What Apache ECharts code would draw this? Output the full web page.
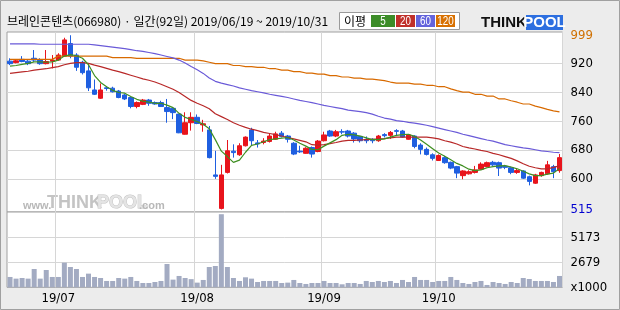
<!DOCTYPE html>
<html><head><meta charset="utf-8">
<script src="https://cdn.jsdelivr.net/npm/echarts@6/dist/echarts.min.js"></script>
<style>html,body{margin:0;padding:0;background:#ececec;overflow:hidden}#c{width:620px;height:310px}</style>
</head><body><div id="c"></div>
<script>
const titleText = '브레인콘텐츠(066980) · 일간(92일) 2019/06/19 ~ 2019/10/31';
const legendLabel = '이평';
const maNames = ['5', '20', '60', '120'];
const dates = ['06/19','06/20','06/21','06/24','06/25','06/26','06/27','06/28',
 '07/01','07/02','07/03','07/04','07/05','07/08','07/09','07/10','07/11','07/12','07/15','07/16','07/17','07/18','07/19','07/22','07/23','07/24','07/25','07/26','07/29','07/30','07/31',
 '08/01','08/02','08/05','08/06','08/07','08/08','08/09','08/12','08/13','08/14','08/16','08/19','08/20','08/21','08/22','08/23','08/26','08/27','08/28','08/29','08/30',
 '09/02','09/03','09/04','09/05','09/06','09/09','09/10','09/11','09/16','09/17','09/18','09/19','09/20','09/23','09/24','09/25','09/26','09/27','09/30',
 '10/01','10/02','10/04','10/07','10/08','10/10','10/11','10/14','10/15','10/16','10/17','10/18','10/21','10/22','10/23','10/24','10/25','10/28','10/29','10/30','10/31'];
const openP = [927,923,932,927,935,930,920,927,930,941,976,944,924,900,847,824,853,852,844,833,826,801,807,819,812,812,798,796,780,724,756,771,750,736,611,518,618,677,667,692,736,700,701,704,710,727,719,699,677,671,687,676,706,733,719,731,733,727,718,710,710,706,723,721,734,733,710,719,694,682,667,651,659,646,634,609,614,618,627,634,646,645,635,631,618,622,606,588,609,614,634,623];
const closeP = [920,928,926,920,930,920,926,930,944,986,941,910,895,853,835,847,851,842,826,822,801,812,819,810,808,801,787,784,728,756,771,754,753,659,607,611,678,673,692,716,706,697,705,719,725,718,710,669,675,685,669,705,722,719,731,730,719,711,706,706,706,719,720,729,732,716,722,690,682,668,657,665,645,630,616,622,620,625,641,645,639,630,632,618,623,602,593,611,618,639,620,659];
const lowP = [916,921,924,916,925,917,918,907,928,940,935,900,890,844,833,822,845,840,824,819,796,796,805,803,806,800,756,766,727,723,734,752,731,657,600,515,615,659,664,690,692,687,696,701,708,715,701,666,672,670,659,674,704,717,716,724,715,701,701,699,699,703,715,711,719,714,709,685,668,665,651,650,642,627,602,599,612,615,625,632,636,608,627,613,614,600,582,586,606,612,602,617];
const highP = [935,931,941,930,958,935,958,944,949,992,999,949,928,921,876,865,858,856,847,836,828,815,822,822,815,817,822,799,781,785,785,779,764,747,678,639,708,696,699,718,742,708,713,725,731,733,722,702,692,688,690,708,731,736,736,738,736,730,719,718,713,722,727,733,738,736,724,721,699,687,671,668,664,648,636,624,624,636,646,648,650,648,639,634,628,624,609,614,620,650,639,669];
const volume = [1217,1051,1117,1051,2015,1051,1915,1217,1217,2647,2214,2015,1217,1549,1217,1117,818,818,1117,1051,1217,818,618,618,718,818,2514,951,1317,1117,1000,652,918,2214,2314,7480,2214,1117,818,1184,1051,718,818,818,818,618,652,918,618,519,618,618,818,618,618,485,618,618,519,818,718,818,718,818,618,918,718,1217,918,918,718,818,818,1217,918,618,519,718,818,419,718,618,519,718,618,1117,1017,818,818,818,718,1317];
const ma5 = [913,915,918,921,925,925,924,925,930,941,945,942,935,917,887,868,856,846,840,838,829,821,816,813,810,810,805,798,782,771,765,759,752,739,709,677,662,646,652,674,693,697,703,709,711,713,715,708,699,691,682,681,691,700,709,721,724,722,719,714,709,709,711,716,721,723,724,718,708,696,684,672,663,653,643,636,627,623,625,631,634,636,637,633,628,621,614,609,609,613,616,629];
const ma20 = [893,895,897,899,902,904,906,909,912,917,921,923,923,921,916,912,907,902,898,893,888,883,878,874,869,863,856,849,840,829,818,810,803,795,781,773,765,756,749,743,738,734,729,726,723,719,715,711,707,703,695,694,695,698,701,705,707,707,708,709,710,711,712,714,716,716,716,716,716,716,714,711,706,702,697,690,686,683,679,676,671,667,662,657,650,642,635,631,628,628,632,636];
const ma60 = [975,975,975,975,975,974,974,974,974,974,974,974,974,974,972,970,968,966,964,962,959,956,954,951,948,944,940,936,930,922,912,903,893,880,871,866,862,858,853,849,845,842,839,835,832,829,826,822,818,815,812,808,804,801,798,795,791,789,787,784,780,774,769,766,762,760,757,755,752,749,745,741,737,733,729,724,720,716,712,708,705,700,695,692,689,686,684,681,678,676,674,673];
const ma120 = [932,932,932,932,932,932,932,932,941,941,941,941,941,941,941,941,941,937,937,937,937,935,935,935,935,935,935,935,935,930,930,930,928,924,920,920,920,915,915,912,912,910,910,906,906,902,902,898,898,894,894,891,891,887,887,883,883,880,880,877,877,875,873,869,866,866,866,863,863,860,860,856,856,850,845,841,841,835,835,830,830,822,822,817,813,808,808,802,798,793,789,786];
const priceGridValues = [600, 680, 760, 840, 920];
const priceLabelValues = [515, 600, 680, 760, 840, 920, 999];
const priceMin = 508, priceMax = 1008;
const volGridValues = [2679, 5173];
const volBase = 186, volMax = 7700;
const volUnit = 'x1000';

const RED = '#e8141c', BLUE = '#1f5fe0';
const MA_COLORS = ['#3f8f22', '#b82828', '#6a5ad8', '#d86a00'];
const LEG_COLORS = ['#3c8c28', '#c0302a', '#6464dc', '#d87000'];
const AX_FONT = "'Liberation Sans Narrow','DejaVu Sans Condensed',Arial,sans-serif";

const monthStart = (i) => i > 0 && dates[i].slice(0, 2) !== dates[i - 1].slice(0, 2);
const candles = dates.map((d, i) => [openP[i], closeP[i], lowP[i], highP[i]]);

const chart = echarts.init(document.getElementById('c'), null, {renderer: 'canvas'});
const gridCommon = {left: 7, right: 57.5, show: true, backgroundColor: '#ffffff', borderColor: '#a0a0a0', borderWidth: 1, containLabel: false};
const splitStyle = {color: '#d6d6d6', width: 1};

const legendItems = [];
const legX = [371, 396, 416, 436], legW = [24, 19, 19, 19];
maNames.forEach((n, k) => {
  legendItems.push({type: 'rect', shape: {x: legX[k], y: 15, width: legW[k], height: 12}, style: {fill: LEG_COLORS[k]}});
  legendItems.push({type: 'text', x: legX[k] + legW[k] / 2, y: 21.5, scaleX: 0.82, style: {text: n, fill: '#fff', font: "12px 'Liberation Sans', Arial, sans-serif", align: 'center', verticalAlign: 'middle'}});
});

chart.setOption({
  animation: false,
  backgroundColor: '#ececec',
  grid: [
    Object.assign({top: 32, height: 180}, gridCommon),
    Object.assign({top: 212, height: 75.3}, gridCommon)
  ],
  xAxis: [
    {type: 'category', gridIndex: 0, data: dates, boundaryGap: true,
     axisLine: {show: false}, axisTick: {show: false}, axisLabel: {show: false},
     splitLine: {show: true, interval: (i) => monthStart(i), lineStyle: splitStyle}},
    {type: 'category', gridIndex: 1, data: dates, boundaryGap: true,
     axisLine: {show: false}, axisTick: {show: false},
     axisLabel: {show: true, interval: (i) => monthStart(i), formatter: (v) => '19/' + v.slice(0, 2),
       color: '#000', fontFamily: AX_FONT, fontSize: 13, margin: 5},
     splitLine: {show: true, interval: (i) => monthStart(i), lineStyle: splitStyle}}
  ],
  yAxis: [
    {type: 'value', gridIndex: 0, position: 'right', min: priceMin, max: priceMax, scale: true,
     axisLine: {show: false}, axisTick: {show: false, customValues: priceGridValues},
     axisLabel: {customValues: priceLabelValues, margin: 8, fontFamily: AX_FONT, fontSize: 13,
       color: (v) => (+v === 999 ? '#d07000' : (+v === 515 ? '#0000d0' : '#000'))},
     splitLine: {show: true, lineStyle: splitStyle}},
    {type: 'value', gridIndex: 1, position: 'right', min: volBase, max: volMax,
     axisLine: {show: false}, axisTick: {show: false, customValues: volGridValues},
     axisLabel: {customValues: [volBase].concat(volGridValues), margin: 8, fontFamily: AX_FONT, fontSize: 13, color: '#000',
       formatter: (v) => (+v === volBase ? volUnit : String(v))},
     splitLine: {show: true, lineStyle: splitStyle}}
  ],
  series: [
    {type: 'candlestick', xAxisIndex: 0, yAxisIndex: 0, data: candles, barWidth: 5, z: 3,
     itemStyle: {color: RED, color0: BLUE, borderColor: RED, borderColor0: BLUE, borderWidth: 1}},
    {type: 'line', xAxisIndex: 0, yAxisIndex: 0, data: ma120, showSymbol: false, z: 4, lineStyle: {color: MA_COLORS[3], width: 1.2}},
    {type: 'line', xAxisIndex: 0, yAxisIndex: 0, data: ma60, showSymbol: false, z: 4, lineStyle: {color: MA_COLORS[2], width: 1.2}},
    {type: 'line', xAxisIndex: 0, yAxisIndex: 0, data: ma20, showSymbol: false, z: 4, lineStyle: {color: MA_COLORS[1], width: 1.2}},
    {type: 'line', xAxisIndex: 0, yAxisIndex: 0, data: ma5, showSymbol: false, z: 4, lineStyle: {color: MA_COLORS[0], width: 1.2}},
    {type: 'bar', xAxisIndex: 1, yAxisIndex: 1, data: volume, barWidth: 5, itemStyle: {color: '#a3abc2'}}
  ],
  graphic: [
    {type: 'rect', z: 100, shape: {x: 0.5, y: 0.5, width: 619, height: 309}, style: {fill: 'none', stroke: '#a0a0a0', lineWidth: 1}},
    {type: 'text', x: 7, y: 21, style: {text: titleText, fill: '#000', font: "12px 'Noto Sans CJK KR', sans-serif", verticalAlign: 'middle'}},
    {type: 'rect', shape: {x: 339.5, y: 12.5, width: 120, height: 17}, style: {fill: '#fff', stroke: '#9a9a9a', lineWidth: 1}},
    {type: 'text', x: 344, y: 21.5, style: {text: legendLabel, fill: '#000', font: "12px 'Noto Sans CJK KR', sans-serif", verticalAlign: 'middle'}},
    ...legendItems,
    {type: 'text', x: 481, y: 22.5, style: {text: 'THINK', fill: '#111', font: "bold 15px 'Liberation Sans', Arial, sans-serif", verticalAlign: 'middle'}},
    {type: 'rect', shape: {x: 526, y: 15, width: 37, height: 15}, style: {fill: '#2d6fe0'}},
    {type: 'text', x: 544.5, y: 22.5, style: {text: 'POOL', fill: '#fff', font: "bold 15px 'Liberation Sans', Arial, sans-serif", align: 'center', verticalAlign: 'middle'}},
    {type: 'text', x: 23, y: 206, style: {text: 'www.', fill: '#b8b8b8', font: "bold 11px 'Liberation Sans', Arial, sans-serif", verticalAlign: 'middle'}},
    {type: 'text', x: 47, y: 203, style: {text: 'THINK', fill: '#c4c4c4', font: "bold 18px 'Liberation Sans', Arial, sans-serif", verticalAlign: 'middle'}},
    {type: 'text', x: 97, y: 203, style: {text: 'POOL', fill: '#e4e4e4', stroke: '#c4c4c4', lineWidth: 1, font: "bold 18px 'Liberation Sans', Arial, sans-serif", verticalAlign: 'middle'}},
    {type: 'text', x: 139, y: 206, style: {text: '.com', fill: '#b8b8b8', font: "bold 11px 'Liberation Sans', Arial, sans-serif", verticalAlign: 'middle'}}
  ]
});
</script></body></html>
